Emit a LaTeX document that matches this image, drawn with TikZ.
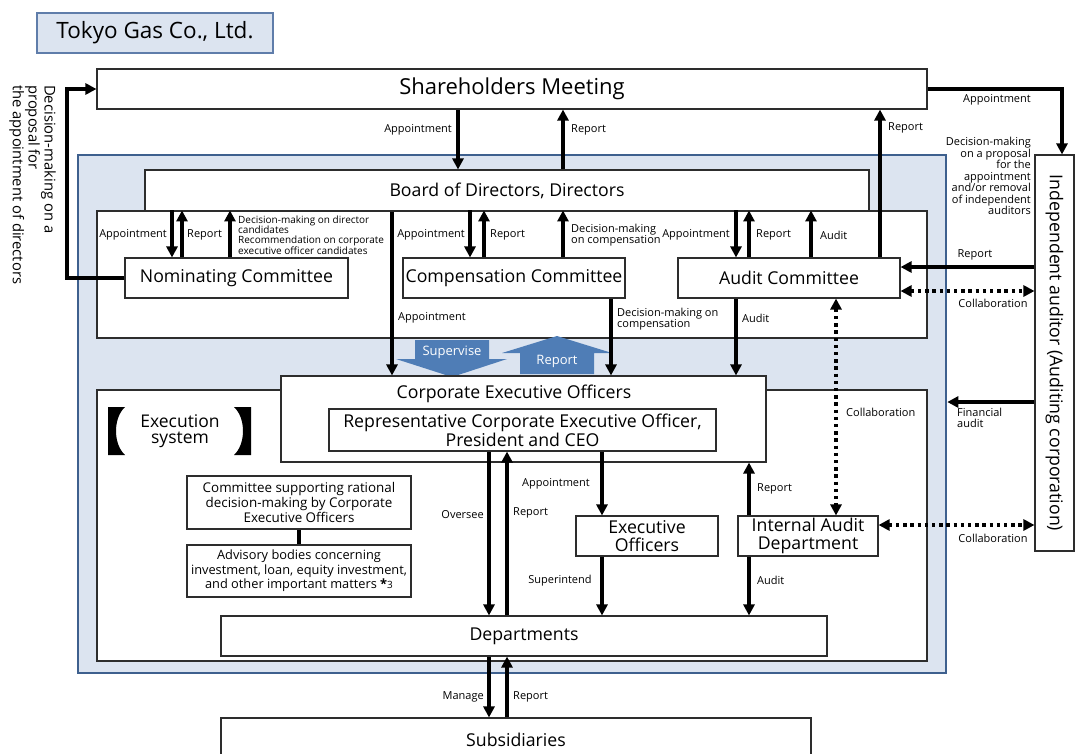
\documentclass[tikz,border=0pt]{standalone}
\usepackage{fontspec}
\setmainfont{Open Sans}
\usepackage{xcolor}
\definecolor{tgpale}{RGB}{220,228,240}
\definecolor{tgframe}{RGB}{62,96,142}
\definecolor{tgtitle}{RGB}{95,125,170}
\definecolor{tgarrow}{RGB}{79,125,182}
\definecolor{tgline}{RGB}{45,45,45}
\usetikzlibrary{arrows.meta, positioning, calc}
\tikzset{
  box/.style={draw=tgline, line width=1.1pt, fill=white, inner sep=0pt, align=center},
  arr/.style={line width=3.2pt, -{Triangle[length=11pt, width=11pt]}},
  dotarr/.style={line width=3.4pt, dash pattern=on 3.4pt off 3.8pt, {Triangle[length=11pt, width=11pt]}-{Triangle[length=11pt, width=11pt]}},
  lbl/.style={font=\fontsize{11}{11.5}\selectfont, inner sep=0pt, align=left},
  big/.style={font=\fontsize{17.7}{17.5}\selectfont},
  bigarrtxt/.style={white, font=\fontsize{13}{13}\selectfont},
}

\begin{document}
\begin{tikzpicture}[x=1pt, y=-1pt]
  \useasboundingbox (0,0) rectangle (1075,753);

  % Company name
  \node[draw=tgtitle, fill=tgpale, line width=1.1pt, minimum width=236pt, minimum height=40pt, font=\fontsize{22.5}{24}\selectfont] (title) at (155,33) {Tokyo Gas Co., Ltd.};

  % Shareholders meeting
  \node[box, minimum width=830pt, minimum height=40pt, font=\fontsize{22}{24}\selectfont] (sh) at (512,89) {Shareholders Meeting};

  % Company frame
  \node[draw=tgframe, fill=tgpale, line width=2.6pt, minimum width=868pt, minimum height=518pt, inner sep=0pt] (frame) at (512,414) {};

  % Board of directors and the three committees
  \node[box, minimum width=830pt, minimum height=127pt] (cmt) at (512,274.5) {};
  \node[box, big, minimum width=724pt, minimum height=41pt] (bd) at (507,190.5) {Board of Directors, Directors};
  \node[box, big, minimum width=223pt, minimum height=40pt] (nom) at (236.5,278) {Nominating Committee};
  \node[box, big, minimum width=222pt, minimum height=40pt] (comp) at (514,278) {Compensation Committee};
  \node[box, big, minimum width=222pt, minimum height=40pt] (audc) at (789,278) {Audit Committee};

  % Execution system area
  \node[box, minimum width=830pt, minimum height=271pt] (exe) at (512,525.5) {};

  % Supervise / Report block arrows
  \fill[tgarrow] (415,340) -- (489,340) -- (489,359) -- (507,359) -- (452,377) -- (396,359) -- (415,359) -- cycle;
  \node[bigarrtxt] (suptxt) at (452,352) {Supervise};
  \fill[tgarrow] (520,374) -- (594,374) -- (594,353) -- (612,353) -- (557,336) -- (502,353) -- (520,353) -- cycle;
  \node[bigarrtxt] (reptxt) at (557,361) {Report};

  % Corporate executive officers
  \node[box, minimum width=485pt, minimum height=86pt] (ceo) at (523.5,419) {};
  \node[big] (ceotxt) at (514,394) {Corporate Executive Officers};
  \node[box, big, minimum width=387pt, minimum height=42pt] (rep) at (522.5,430) {Representative Corporate Executive Officer,\\President and CEO};

  % Execution system heading
  \fill (108,407) -- (125,407) .. controls (113,418) and (113,444) .. (125,455) -- (108,455) -- cycle;
  \fill (251,407) -- (234,407) .. controls (246,418) and (246,444) .. (234,455) -- (251,455) -- cycle;
  \node[font=\fontsize{17.5}{16.5}\selectfont, align=center] (exsys) at (180,431) {Execution\\system};

  % Supporting bodies
  \node[box, minimum width=224pt, minimum height=53pt, font=\fontsize{13.4}{15}\selectfont] (csup) at (299,502.5) {Committee supporting rational\\decision-making by Corporate\\Executive Officers};
  \node[box, minimum width=224pt, minimum height=52pt, font=\fontsize{12.8}{14.5}\selectfont] (adv) at (299,571) {Advisory bodies concerning\\investment, loan, equity investment,\\and other important matters \textbf{*}{\fontsize{10}{10}\selectfont 3}};
  \draw[line width=3.2pt] (csup.south) -- (adv.north);

  % Lower boxes
  \node[box, big, minimum width=142pt, minimum height=40pt] (eo) at (647,536) {Executive\\Officers};
  \node[box, big, minimum width=140pt, minimum height=40pt] (iad) at (808,536) {Internal Audit\\Department};
  \node[box, big, minimum width=606pt, minimum height=40pt] (dep) at (524,636) {Departments};
  \node[box, big, minimum width=590pt, minimum height=44pt] (sub) at (516,740) {Subsidiaries};

  % Independent auditor
  \node[box, minimum width=39pt, minimum height=396pt] (ia) at (1054.5,353) {};
  \node[rotate=-90, big] (iatxt) at (1054.5,353) {Independent auditor (Auditing corporation)};

  % Proposal for directors (left side)
  \node[rotate=-90, anchor=north west, align=left, inner sep=0pt, font=\fontsize{14.8}{13}\selectfont] (dirtxt) at (56,85) {Decision-making on a\\proposal for\\the appointment of directors};
  \draw[arr] (nom.west) -- (nom.west -| 67,0) |- (sh.west);

  % Shareholders meeting links
  \draw[arr] (sh.south -| 458,0) -- (bd.north -| 458,0);
  \node[lbl, anchor=east] (l-sh-app) at (452,130) {Appointment};
  \draw[arr] (bd.north -| 563,0) -- (sh.south -| 563,0);
  \node[lbl, anchor=west] (l-sh-rep) at (571,130) {Report};
  \draw[arr] (audc.north -| 880,0) -- (sh.south -| 880,0);
  \node[lbl, anchor=west] (l-au-rep) at (888,128) {Report};
  \draw[arr] (sh.east) -| (ia.north -| 1062,0);
  \node[lbl] (l-ia-app) at (997,100) {Appointment};
  \node[lbl, anchor=north east, align=right] (l-ia-dec) at (1031,137) {Decision-making\\on a proposal\\for the\\appointment\\and/or removal\\of independent\\auditors};

  % Nominating committee links
  \draw[arr] (cmt.north -| 172,0) -- (nom.north -| 172,0);
  \draw[arr] (nom.north -| 182,0) -- (cmt.north -| 182,0);
  \draw[arr] (nom.north -| 230,0) -- (cmt.north -| 230,0);
  \node[lbl, anchor=east] (l-nom-app) at (167,235) {Appointment};
  \node[lbl, anchor=west] (l-nom-rep) at (187,235) {Report};
  \node[lbl, anchor=west, font=\fontsize{10}{10.3}\selectfont] (l-nom-dec) at (238,235) {Decision-making on director\\candidates\\Recommendation on corporate\\executive officer candidates};

  % Compensation committee links
  \draw[arr] (cmt.north -| 470,0) -- (comp.north -| 470,0);
  \draw[arr] (comp.north -| 484,0) -- (cmt.north -| 484,0);
  \draw[arr] (comp.north -| 563,0) -- (cmt.north -| 563,0);
  \node[lbl, anchor=east] (l-cmp-app) at (465,235) {Appointment};
  \node[lbl, anchor=west] (l-cmp-rep) at (490,235) {Report};
  \node[lbl, anchor=west, font=\fontsize{11}{10}\selectfont] (l-cmp-dec) at (571,235) {Decision-making\\on compensation};

  % Audit committee links
  \draw[arr] (cmt.north -| 736,0) -- (audc.north -| 736,0);
  \draw[arr] (audc.north -| 749,0) -- (cmt.north -| 749,0);
  \draw[arr] (audc.north -| 811,0) -- (cmt.north -| 811,0);
  \node[lbl, anchor=east] (l-aud-app) at (730,235) {Appointment};
  \node[lbl, anchor=west] (l-aud-rep) at (756,235) {Report};
  \node[lbl, anchor=west] (l-aud-aud) at (820,235) {Audit};

  % Board / committees to corporate executive officers
  \draw[arr] (bd.south -| 392,0) -- (ceo.north -| 392,0);
  \node[lbl, anchor=west] (l-ceo-app) at (398,318) {Appointment};
  \draw[arr] (comp.south -| 611,0) -- (ceo.north -| 611,0);
  \node[lbl, anchor=west, font=\fontsize{11}{10}\selectfont] (l-ceo-dec) at (617,319) {Decision-making on\\compensation};
  \draw[arr] (audc.south -| 736,0) -- (ceo.north -| 736,0);
  \node[lbl, anchor=west] (l-ceo-aud) at (742,318) {Audit};

  % Collaboration and independent auditor links
  \draw[dotarr] (audc.south -| 836,0) -- (iad.north -| 836,0);
  \node[lbl, anchor=west] (l-col-v) at (846,412) {Collaboration};
  \draw[arr] (ia.west |- 0,267) -- (audc.east |- 0,267);
  \node[lbl] (l-ia-rep) at (975,255) {Report};
  \draw[dotarr] (audc.east |- 0,291) -- (ia.west |- 0,291);
  \node[lbl] (l-col-a) at (993,303) {Collaboration};
  \draw[arr] (ia.west |- 0,402) -- (frame.east |- 0,402);
  \node[lbl, anchor=north west, font=\fontsize{11}{10.5}\selectfont] (l-fin) at (957,408) {Financial\\audit};
  \draw[dotarr] (iad.east |- 0,525) -- (ia.west |- 0,525);
  \node[lbl] (l-col-b) at (993,538) {Collaboration};

  % Execution lines
  \draw[arr] (rep.south -| 489,0) -- (dep.north -| 489,0);
  \node[lbl, anchor=east] (l-ovs) at (484,515) {Oversee};
  \draw[arr] (dep.north -| 507,0) -- (rep.south -| 507,0);
  \node[lbl, anchor=west] (l-dep-rep) at (513,513) {Report};
  \draw[arr] (rep.south -| 602,0) -- (eo.north -| 602,0);
  \node[lbl] (l-eo-app) at (556,484) {Appointment};
  \draw[arr] (eo.south -| 602,0) -- (dep.north -| 602,0);
  \node[lbl] (l-sup) at (560,581) {Superintend};
  \draw[arr] (iad.north -| 749,0) -- (ceo.south -| 749,0);
  \node[lbl, anchor=west] (l-iad-rep) at (757,489) {Report};
  \draw[arr] (iad.south -| 749,0) -- (dep.north -| 749,0);
  \node[lbl, anchor=west] (l-iad-aud) at (757,580) {Audit};

  % Subsidiaries
  \draw[arr] (dep.south -| 489,0) -- (sub.north -| 489,0);
  \node[lbl, anchor=east] (l-mng) at (484,697) {Manage};
  \draw[arr] (sub.north -| 507,0) -- (dep.south -| 507,0);
  \node[lbl, anchor=west] (l-sub-rep) at (513,697) {Report};
\end{tikzpicture}
\end{document}
